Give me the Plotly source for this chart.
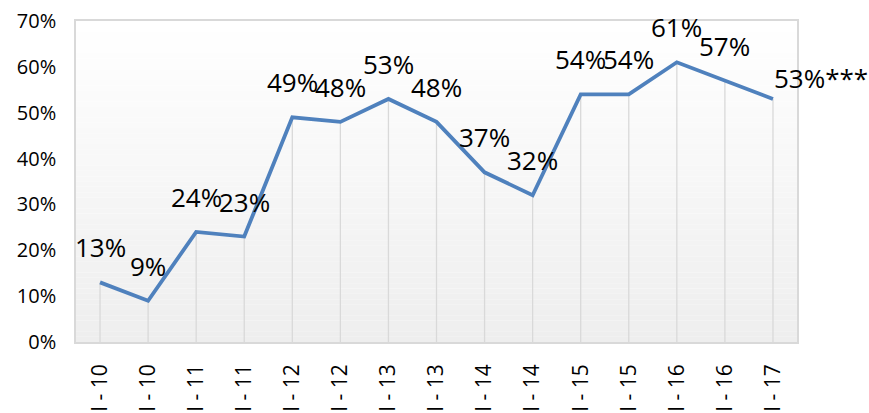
import plotly.graph_objects as go

# Half-year periods and the share recorded in each
periods = ["I - 10", "II - 10", "I - 11", "II - 11", "I - 12", "II - 12", "I - 13", "II - 13",
           "I - 14", "II - 14", "I - 15", "II - 15", "I - 16", "II - 16", "I - 17"]
shares = [13, 9, 24, 23, 49, 48, 53, 48, 37, 32, 54, 54, 61, 57, 53]
last_suffix = "***"
y_ticks = [0, 10, 20, 30, 40, 50, 60, 70]

FONT = "Open Sans"
LINE_BLUE = "#4F81BD"
GRID_GREY = "#D9D9D9"

fig = go.Figure()

# Drop lines from each point down to the category axis
drop_x, drop_y = [], []
for p, v in zip(periods, shares):
    drop_x += [p, p, None]
    drop_y += [0, v, None]
fig.add_trace(go.Scatter(x=drop_x, y=drop_y, mode="lines",
                         line=dict(color=GRID_GREY, width=1.3),
                         hoverinfo="skip", showlegend=False))

# Main series
fig.add_trace(go.Scatter(x=periods, y=shares, mode="lines",
                         line=dict(color=LINE_BLUE, width=3.8),
                         showlegend=False))

# Value labels above each point; the last one sits to the right with a footnote mark
annotations = []
for i, (p, v) in enumerate(zip(periods, shares)):
    if i == len(periods) - 1:
        annotations.append(dict(x=p, y=v, xref="x", yref="y", text=f"{v}%{last_suffix}",
                                showarrow=False, xanchor="left", yanchor="middle",
                                xshift=-1, yshift=21,
                                font=dict(family=FONT, size=26, color="#000000")))
    else:
        annotations.append(dict(x=p, y=v, xref="x", yref="y", text=f"{v}%",
                                showarrow=False, xanchor="center", yanchor="middle",
                                yshift=35,
                                font=dict(family=FONT, size=26, color="#000000")))

# Soft vertical gradient behind the plotting area
shapes = []
n_bands = 60
for k in range(n_bands):
    t = k / (n_bands - 1)
    c = round(255 - (255 - 238) * t)
    shapes.append(dict(type="rect", xref="x domain", yref="y domain",
                       x0=0, x1=1, y0=1 - (k + 1) / n_bands, y1=1 - k / n_bands,
                       fillcolor=f"rgb({c},{c},{c})", line=dict(width=0), layer="below"))

fig.update_layout(
    width=869, height=413,
    margin=dict(l=76, r=72, t=21, b=71, autoexpand=False),
    paper_bgcolor="#FFFFFF",
    plot_bgcolor="rgba(0,0,0,0)",
    font=dict(family=FONT, size=20, color="#000000"),
    annotations=annotations,
    shapes=shapes,
    showlegend=False,
)

fig.update_xaxes(
    type="category", range=[-0.5, len(periods) - 0.5],
    tickangle=-90, ticks="", showgrid=False, automargin=False,
    showline=True, linecolor=GRID_GREY, linewidth=1.5, mirror=True,
    tickfont=dict(family=FONT, size=21, color="#000000"),
    ticklabelstandoff=12,
)
fig.update_yaxes(
    range=[0, 70], tickvals=y_ticks, ticktext=[f"{t}%" for t in y_ticks],
    showgrid=False, zeroline=False, ticks="", automargin=False,
    showline=True, linecolor=GRID_GREY, linewidth=1.5, mirror=True,
    tickfont=dict(family=FONT, size=20, color="#000000"),
    ticklabelstandoff=14,
)

fig.write_html("out.html")
